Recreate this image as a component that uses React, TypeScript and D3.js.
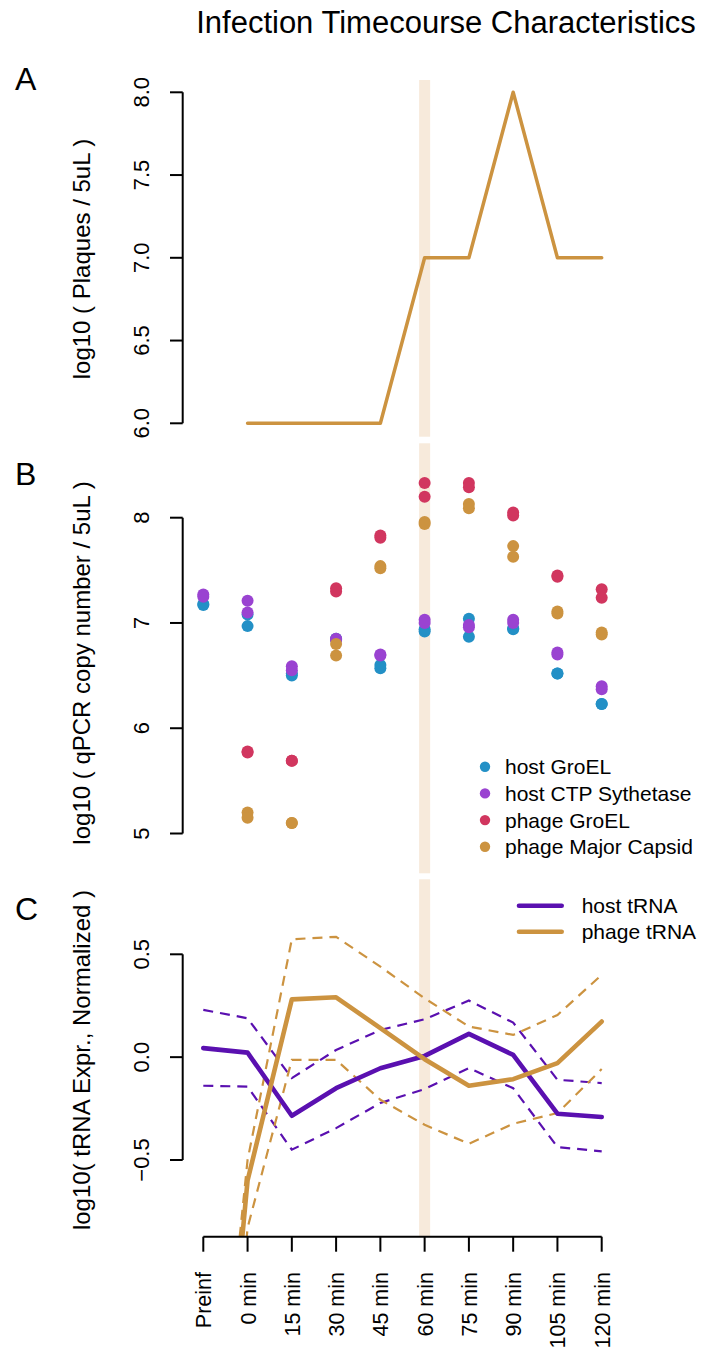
import React, { useEffect } from "react";
import * as d3 from "d3";

const W = 702;
const H = 1353;

const times = ["Preinf", "0 min", "15 min", "30 min", "45 min", "60 min", "75 min", "90 min", "105 min", "120 min"];
const highlightTime = "60 min";

// Panel A: log10 plaques / 5uL
const plaques: (number | null)[] = [null, 6.0, 6.0, 6.0, 6.0, 7.0, 7.0, 8.0, 7.0, 7.0];
const ticksA = [6.0, 6.5, 7.0, 7.5, 8.0];

// Panel B: qPCR copy number, two replicates per time point
const hostGroEL: number[][] = [
  [7.17, 7.18], [7.08, 6.97], [6.5, 6.52], [6.85, 6.84], [6.6, 6.57],
  [6.92, 6.94], [7.04, 6.87], [6.94, 6.95], [6.52, 6.52], [6.23, 6.23],
];
const hostCTP: number[][] = [
  [7.27, 7.25], [7.21, 7.1], [6.59, 6.55], [6.85, 6.84], [6.7, 6.69],
  [7.03, 7.0], [6.98, 6.96], [7.03, 7.0], [6.72, 6.7], [6.4, 6.37],
];
const phageGroEL: number[][] = [
  [], [5.78, 5.77], [5.69, 5.69], [7.33, 7.3], [7.83, 7.81],
  [8.33, 8.2], [8.33, 8.29], [8.05, 8.02], [7.45, 7.44], [7.32, 7.24],
];
const phageMCP: number[][] = [
  [], [5.2, 5.15], [5.1, 5.1], [6.8, 6.69], [7.54, 7.52],
  [7.96, 7.94], [8.13, 8.09], [7.73, 7.63], [7.11, 7.09], [6.91, 6.89],
];
const ticksB = [5, 6, 7, 8];
const seriesB = ["host GroEL", "host CTP Sythetase", "phage GroEL", "phage Major Capsid"];

// Panel C: tRNA expression, mean and bounds
const hostTRNA = [0.044, 0.022, -0.285, -0.151, -0.054, 0.006, 0.113, 0.011, -0.275, -0.291];
const hostTRNAHigh = [0.23, 0.189, -0.102, 0.035, 0.132, 0.184, 0.275, 0.168, -0.11, -0.126];
const hostTRNALow = [-0.139, -0.143, -0.45, -0.345, -0.223, -0.155, -0.053, -0.151, -0.437, -0.458];
const phageTRNA = [-2.9, -0.6, 0.281, 0.291, 0.141, -0.01, -0.139, -0.107, -0.029, 0.173];
const phageTRNAHigh = [-2.6, -0.5, 0.573, 0.585, 0.44, 0.286, 0.149, 0.108, 0.205, 0.4];
const phageTRNALow = [-3.2, -0.83, -0.013, -0.013, -0.207, -0.329, -0.421, -0.324, -0.272, -0.058];
const ticksC = [-0.5, 0.0, 0.5];
const seriesC = ["host tRNA", "phage tRNA"];

const COL_GOLD = "#CC9340";
const COL_BAND = "#F7EADB";
const COL_BLUE = "#2390C6";
const COL_VIOLET = "#9A43D1";
const COL_RED = "#D1365F";
const COL_HOST = "#5A10B0";
const colorsB = [COL_BLUE, COL_VIOLET, COL_RED, COL_GOLD];
const colorsC = [COL_HOST, COL_GOLD];

const FONT = "'Liberation Sans', Arial, Helvetica, sans-serif";

export default function App() {
  useEffect(() => {
    document.body.style.margin = "0";
  }, []);

  const x = d3.scalePoint<string>().domain(times).range([203.3, 601.7]);
  const yA = d3.scaleLinear().domain([6, 8]).range([423.3, 92.3]);
  const yB = d3.scaleLinear().domain([5, 8]).range([833.5, 517.7]);
  const yC = d3.scaleLinear().domain([-0.5, 0.5]).range([1160, 954.3]);

  const regions = {
    A: [80, 436.7],
    B: [443.3, 873.3],
    C: [879.3, 1236.7],
  };
  const axisX = 182.7;
  const tickLenY = 12.7;
  const tickLenX = 15;
  const bandX = x(highlightTime)!;
  const bandW = 11;

  const lineA = d3
    .line<number | null>()
    .defined((d) => d != null)
    .x((_, i) => x(times[i])!)
    .y((d) => yA(d as number));

  const lineC = d3
    .line<number>()
    .x((_, i) => x(times[i])!)
    .y((d) => yC(d));

  const yAxis = (ticks: number[], scale: d3.ScaleLinear<number, number>, fmt: (v: number) => string) => (
    <g>
      <line x1={axisX} x2={axisX} y1={scale(ticks[0])} y2={scale(ticks[ticks.length - 1])} stroke="#000" strokeWidth={2} />
      {ticks.map((t) => (
        <g key={t}>
          <line x1={axisX - tickLenY} x2={axisX} y1={scale(t)} y2={scale(t)} stroke="#000" strokeWidth={2} />
          <text
            transform={`translate(149,${scale(t)}) rotate(-90)`}
            textAnchor="middle"
            fontSize={22}
            fontFamily={FONT}
          >
            {fmt(t)}
          </text>
        </g>
      ))}
    </g>
  );

  const fmt1 = (v: number) => (v < 0 ? "\u2212" : "") + Math.abs(v).toFixed(1);
  const fmt0 = (v: number) => d3.format("d")(v);

  const band = (r: number[]) => (
    <rect x={bandX - bandW / 2} y={r[0]} width={bandW} height={r[1] - r[0]} fill={COL_BAND} />
  );

  const pointsB = [hostGroEL, hostCTP, phageGroEL, phageMCP];

  const cLines = [
    { mean: hostTRNA, hi: hostTRNAHigh, lo: hostTRNALow, color: COL_HOST },
    { mean: phageTRNA, hi: phageTRNAHigh, lo: phageTRNALow, color: COL_GOLD },
  ];

  return (
    <svg width={W} height={H} style={{ position: "absolute", left: 0, top: 0, background: "#fff" }}>
      <defs>
        <clipPath id="clipC">
          <rect x={183} y={regions.C[0]} width={440} height={regions.C[1] - regions.C[0]} />
        </clipPath>
      </defs>
      <rect x={0} y={0} width={W} height={H} fill="#fff" />

      <text x={446} y={33} textAnchor="middle" fontSize={31} fontFamily={FONT}>
        Infection Timecourse Characteristics
      </text>

      {/* Panel A */}
      <text x={15} y={90} fontSize={32} fontFamily={FONT}>A</text>
      {band(regions.A)}
      {yAxis(ticksA, yA, fmt1)}
      <text transform={`translate(90,259) rotate(-90)`} textAnchor="middle" fontSize={24} fontFamily={FONT}>
        log10 ( Plaques / 5uL )
      </text>
      <path d={lineA(plaques) || ""} fill="none" stroke={COL_GOLD} strokeWidth={3.5} strokeLinejoin="round" strokeLinecap="round" />

      {/* Panel B */}
      <text x={15} y={485} fontSize={32} fontFamily={FONT}>B</text>
      {band(regions.B)}
      {yAxis(ticksB, yB, fmt0)}
      <text transform={`translate(90,663) rotate(-90)`} textAnchor="middle" fontSize={24} fontFamily={FONT}>
        log10 ( qPCR copy number / 5uL )
      </text>
      {pointsB.map((series, si) => (
        <g key={si}>
          {series.map((reps, ti) =>
            reps.map((v, ri) => (
              <circle key={`${ti}-${ri}`} cx={x(times[ti])!} cy={yB(v)} r={6} fill={colorsB[si]} />
            ))
          )}
        </g>
      ))}
      {seriesB.map((name, i) => {
        const cy = 766.7 + i * 26.7;
        return (
          <g key={name}>
            <circle cx={485} cy={cy} r={5.2} fill={colorsB[i]} />
            <text x={505} y={cy + 7.5} fontSize={21} fontFamily={FONT}>{name}</text>
          </g>
        );
      })}

      {/* Panel C */}
      <text x={15} y={920} fontSize={32} fontFamily={FONT}>C</text>
      {band(regions.C)}
      {yAxis(ticksC, yC, fmt1)}
      <text transform={`translate(90,1060) rotate(-90)`} textAnchor="middle" fontSize={24} fontFamily={FONT}>
        log10( tRNA Expr., Normalized )
      </text>
      <g clipPath="url(#clipC)">
        {cLines.map((s, i) => (
          <g key={i}>
            <path d={lineC(s.hi) || ""} fill="none" stroke={s.color} strokeWidth={2.2} strokeDasharray="10,7" />
            <path d={lineC(s.lo) || ""} fill="none" stroke={s.color} strokeWidth={2.2} strokeDasharray="10,7" />
          </g>
        ))}
        {cLines.map((s, i) => (
          <path key={i} d={lineC(s.mean) || ""} fill="none" stroke={s.color} strokeWidth={4.6} strokeLinejoin="round" strokeLinecap="round" />
        ))}
      </g>
      {seriesC.map((name, i) => {
        const cy = 905.7 + i * 26;
        return (
          <g key={name}>
            <line x1={519} x2={561.7} y1={cy} y2={cy} stroke={colorsC[i]} strokeWidth={4.6} strokeLinecap="round" />
            <text x={581.7} y={cy + 7.5} fontSize={21} fontFamily={FONT}>{name}</text>
          </g>
        );
      })}
      {/* x axis */}
      <line x1={x(times[0])!} x2={x(times[times.length - 1])!} y1={1236.7} y2={1236.7} stroke="#000" strokeWidth={2} />
      {times.map((t) => (
        <g key={t}>
          <line x1={x(t)!} x2={x(t)!} y1={1236.7} y2={1236.7 + tickLenX} stroke="#000" strokeWidth={2} />
          <text
            transform={`translate(${x(t)! + 8},1272) rotate(-90)`}
            textAnchor="end"
            fontSize={21.5}
            fontFamily={FONT}
          >
            {t}
          </text>
        </g>
      ))}
    </svg>
  );
}
